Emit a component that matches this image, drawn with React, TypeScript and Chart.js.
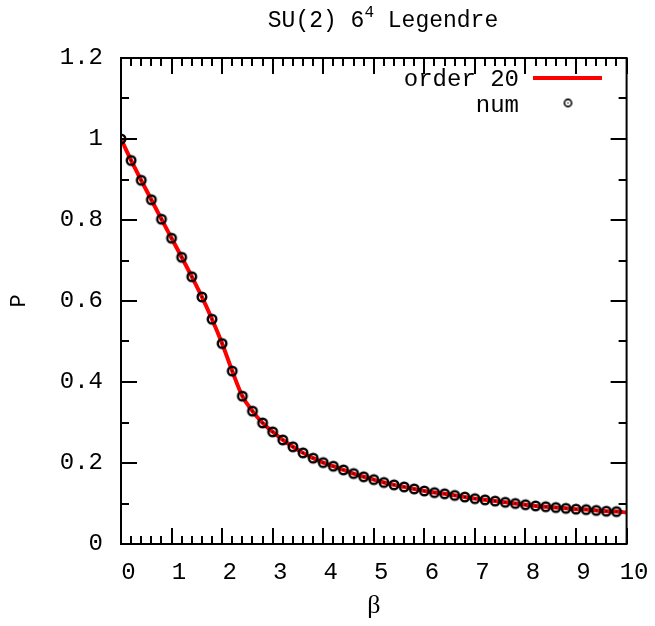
import React, { useEffect, useRef } from "react";
import { Chart, registerables } from "chart.js";

Chart.register(...registerables);

// ---- data ----
const betaNum = [
  0.0, 0.2, 0.4, 0.6, 0.8, 1.0, 1.2, 1.4, 1.6, 1.8,
  2.0, 2.2, 2.4, 2.6, 2.8, 3.0, 3.2, 3.4, 3.6, 3.8,
  4.0, 4.2, 4.4, 4.6, 4.8, 5.0, 5.2, 5.4, 5.6, 5.8,
  6.0, 6.2, 6.4, 6.6, 6.8, 7.0, 7.2, 7.4, 7.6, 7.8,
  8.0, 8.2, 8.4, 8.6, 8.8, 9.0, 9.2, 9.4, 9.6, 9.8,
];
const pNum = [
  1.0, 0.947, 0.898, 0.85, 0.802, 0.755, 0.708, 0.66, 0.61, 0.555,
  0.495, 0.427, 0.365, 0.328, 0.299, 0.277, 0.257, 0.24, 0.225, 0.212,
  0.201, 0.192, 0.183, 0.174, 0.166, 0.159, 0.152, 0.146, 0.141, 0.136,
  0.131, 0.127, 0.124, 0.12, 0.116, 0.112, 0.109, 0.106, 0.103, 0.1,
  0.097, 0.094, 0.092, 0.09, 0.088, 0.086, 0.085, 0.083, 0.081, 0.08,
];
const betaLine = [
  0.0, 0.2, 0.4, 0.6, 0.8, 1.0, 1.2, 1.4, 1.6, 1.8,
  2.0, 2.2, 2.4, 2.6, 2.8, 3.0, 3.2, 3.4, 3.6, 3.8,
  4.0, 4.2, 4.4, 4.6, 4.8, 5.0, 5.2, 5.4, 5.6, 5.8,
  6.0, 6.2, 6.4, 6.6, 6.8, 7.0, 7.2, 7.4, 7.6, 7.8,
  8.0, 8.2, 8.4, 8.6, 8.8, 9.0, 9.2, 9.4, 9.6, 9.8, 10.0,
];
const pLine = [
  1.0, 0.947, 0.898, 0.85, 0.802, 0.755, 0.708, 0.66, 0.61, 0.555,
  0.495, 0.427, 0.365, 0.328, 0.299, 0.277, 0.257, 0.24, 0.225, 0.212,
  0.201, 0.192, 0.183, 0.174, 0.166, 0.159, 0.152, 0.146, 0.141, 0.136,
  0.131, 0.127, 0.124, 0.12, 0.116, 0.112, 0.109, 0.106, 0.103, 0.1,
  0.097, 0.094, 0.092, 0.09, 0.088, 0.086, 0.085, 0.083, 0.081, 0.08, 0.078,
];
const seriesLabels = ["order 20", "num"];
const titleMain = "SU(2) 6";
const titleSup = "4";
const titleRest = " Legendre";
const xTitle = "β";
const yTitle = "P";
const xRange = [0, 10];
const yRange = [0, 1.2];
const xStep = 1;
const yStep = 0.2;

const MONO = "'Liberation Mono', 'DejaVu Sans Mono', monospace";

function makeMarker(r: number, lw: number, dot: number) {
  const size = Math.ceil((r + lw) * 2 + 2);
  const c = document.createElement("canvas");
  c.width = size;
  c.height = size;
  const g = c.getContext("2d")!;
  g.strokeStyle = "#000";
  g.lineWidth = lw;
  g.beginPath();
  g.arc(size / 2, size / 2, r, 0, Math.PI * 2);
  g.stroke();
  g.fillStyle = "#000";
  g.beginPath();
  g.arc(size / 2, size / 2, dot, 0, Math.PI * 2);
  g.fill();
  return c;
}

export default function App() {
  const ref = useRef<HTMLCanvasElement>(null);

  useEffect(() => {
    if (!ref.current) return;
    const marker = makeMarker(4.3, 2.4, 0.9);
    const legendMarker = makeMarker(3.6, 1.6, 0.8);

    const framePlugin = {
      id: "frame",
      afterDraw(chart: any) {
        const { ctx, chartArea: a, scales } = chart;
        const x = scales.x;
        const y = scales.y;
        ctx.save();
        ctx.strokeStyle = "#000";
        ctx.lineWidth = 2;
        ctx.beginPath();
        for (let i = 0; i <= 50; i++) {
          const px = Math.round(x.getPixelForValue(i * 0.2));
          const len = i % 5 === 0 ? 16 : 8;
          ctx.moveTo(px, a.bottom);
          ctx.lineTo(px, a.bottom - len);
          ctx.moveTo(px, a.top);
          ctx.lineTo(px, a.top + len);
        }
        for (let i = 0; i <= 12; i++) {
          const py = Math.round(y.getPixelForValue(i * 0.1));
          const len = i % 2 === 0 ? 16 : 8;
          ctx.moveTo(a.left, py);
          ctx.lineTo(a.left + len, py);
          ctx.moveTo(a.right, py);
          ctx.lineTo(a.right - len, py);
        }
        ctx.stroke();
        ctx.strokeRect(a.left, a.top, a.right - a.left, a.bottom - a.top);

        // title with superscript
        ctx.fillStyle = "#000";
        ctx.textBaseline = "alphabetic";
        const mainFont = `23px ${MONO}`;
        const supFont = `16px ${MONO}`;
        ctx.font = mainFont;
        const w1 = ctx.measureText(titleMain).width;
        const w3 = ctx.measureText(titleRest).width;
        ctx.font = supFont;
        const w2 = ctx.measureText(titleSup).width;
        const total = w1 + w2 + w3;
        let tx = 383 - total / 2;
        const ty = 27;
        ctx.font = mainFont;
        ctx.textAlign = "left";
        ctx.fillText(titleMain, tx, ty);
        tx += w1;
        ctx.font = supFont;
        ctx.fillText(titleSup, tx, ty - 10);
        tx += w2;
        ctx.font = mainFont;
        ctx.fillText(titleRest, tx, ty);

        // legend
        const ds = chart.data.datasets;
        ctx.font = `24px ${MONO}`;
        ctx.textAlign = "right";
        ctx.textBaseline = "middle";
        ctx.fillText(ds[0].label, 519, 80);
        ctx.fillText(ds[1].label, 519, 106);
        ctx.strokeStyle = ds[0].borderColor;
        ctx.lineWidth = 4;
        ctx.beginPath();
        ctx.moveTo(533, 78);
        ctx.lineTo(602, 78);
        ctx.stroke();
        ctx.drawImage(
          legendMarker,
          568 - legendMarker.width / 2,
          103 - legendMarker.height / 2
        );
        ctx.restore();
      },
    };

    const chart = new Chart(ref.current, {
      type: "line",
      data: {
        datasets: [
          {
            label: seriesLabels[0],
            data: betaLine.map((b, i) => ({ x: b, y: pLine[i] })),
            borderColor: "#ff0000",
            borderWidth: 4,
            pointRadius: 0,
            fill: false,
            cubicInterpolationMode: "monotone",
            order: 2,
          },
          {
            label: seriesLabels[1],
            data: betaNum.map((b, i) => ({ x: b, y: pNum[i] })),
            showLine: false,
            pointStyle: marker as any,
            pointRadius: 6,
            borderColor: "#000",
            order: 1,
          },
        ],
      },
      options: {
        animation: false,
        responsive: false,
        devicePixelRatio: 1,
        layout: { padding: { top: 58, right: 22, bottom: 0, left: 0 } },
        plugins: {
          legend: { display: false },
          title: { display: false },
          tooltip: { enabled: false },
        },
        scales: {
          x: {
            type: "linear",
            min: xRange[0],
            max: xRange[1],
            afterFit(s: any) {
              s.height = 82;
            },
            grid: { display: false, drawTicks: false },
            border: { display: false },
            ticks: {
              stepSize: xStep,
              color: "#000",
              font: { family: MONO, size: 24 },
              labelOffset: 7.5,
              padding: 14,
              maxRotation: 0,
              autoSkip: false,
            },
            title: {
              display: true,
              text: xTitle,
              color: "#000",
              font: { family: "'Liberation Serif', 'DejaVu Serif', serif", size: 26 },
              padding: { top: 0, bottom: 4 },
            },
          },
          y: {
            type: "linear",
            min: yRange[0],
            max: yRange[1],
            afterFit(s: any) {
              s.width = 121;
            },
            grid: { display: false, drawTicks: false },
            border: { display: false },
            ticks: {
              stepSize: yStep,
              color: "#000",
              font: { family: MONO, size: 24 },
              padding: 18,
              callback: (v: any) => String(Number(Number(v).toFixed(1))),
            },
            title: {
              display: true,
              text: yTitle,
              color: "#000",
              font: { family: MONO, size: 22 },
              padding: { top: 6, bottom: 0 },
            },
          },
        },
      },
      plugins: [framePlugin],
    } as any);
    return () => chart.destroy();
  }, []);

  return (
    <div
      style={{
        position: "fixed",
        left: 0,
        top: 0,
        width: 655,
        height: 626,
        background: "#fff",
      }}
    >
      <canvas
        ref={ref}
        width={655}
        height={626}
        style={{ display: "block", width: 655, height: 626 }}
      />
    </div>
  );
}
